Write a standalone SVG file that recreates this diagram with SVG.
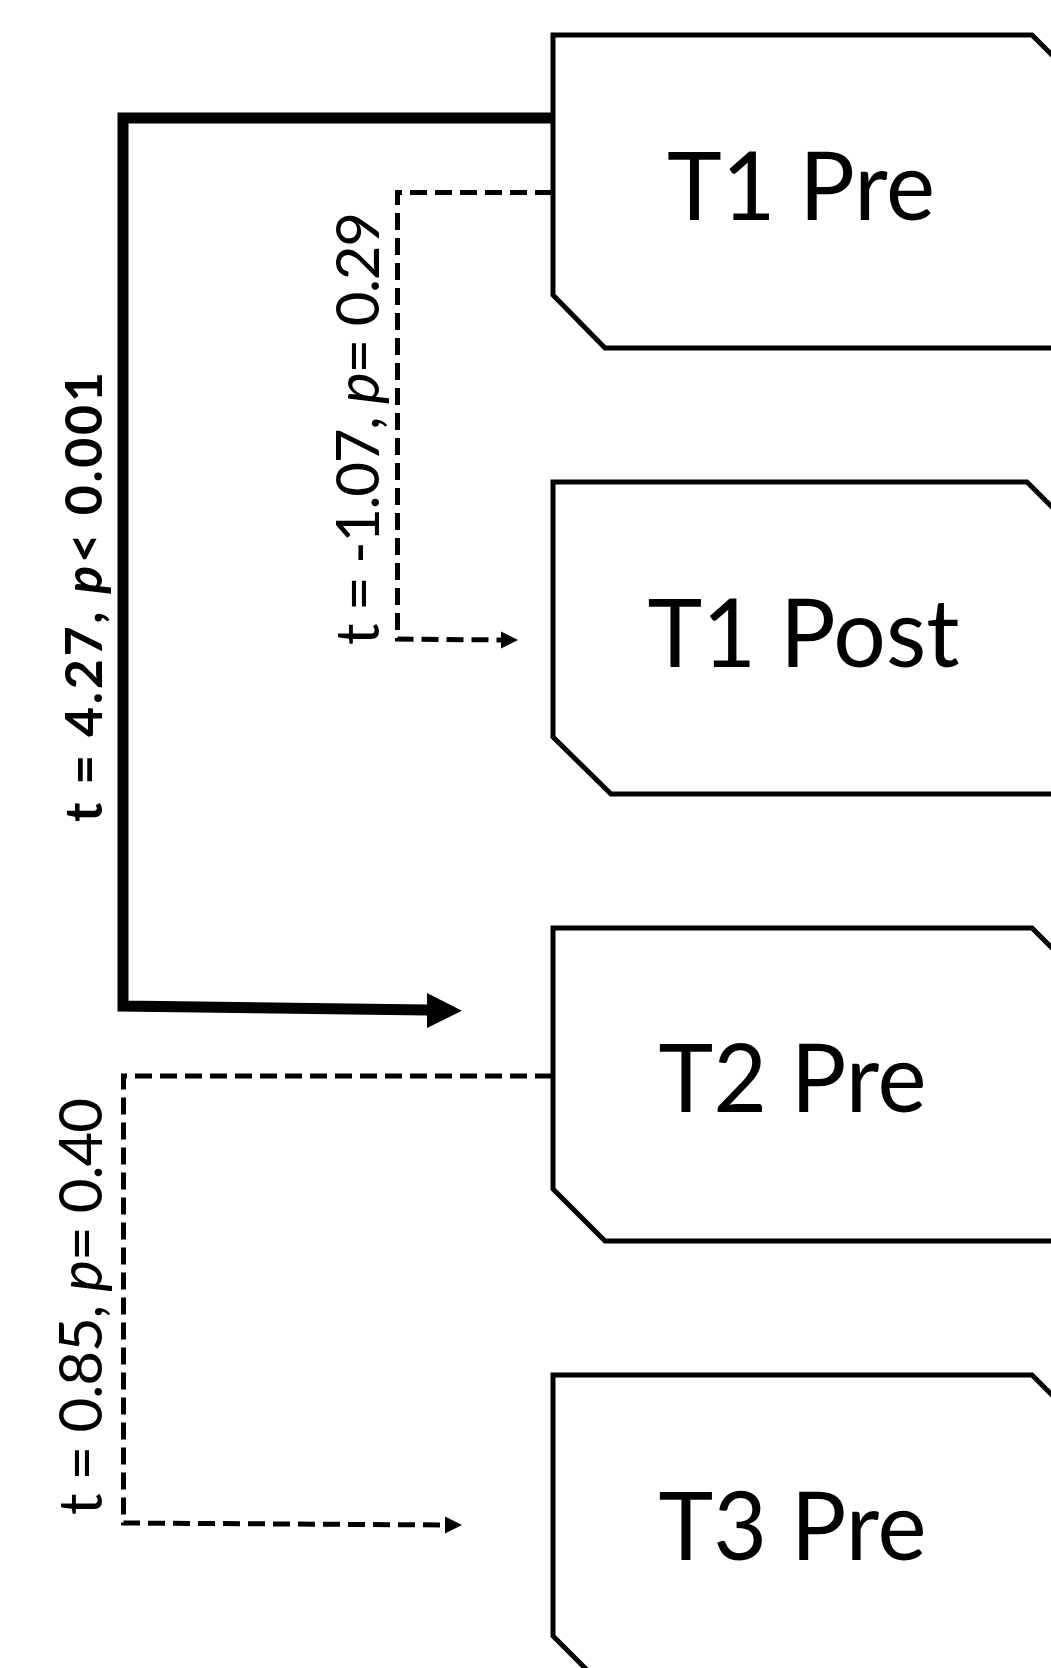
<svg xmlns="http://www.w3.org/2000/svg" width="1051" height="1668" viewBox="0 0 1051 1668">
<style>
.node{fill:#fff;stroke:#000;stroke-width:5;stroke-linejoin:miter}
.ntext{font-family:Lato,"Open Sans","Liberation Sans",sans-serif;font-size:95px;fill:#000;text-anchor:middle}
.thick{fill:none;stroke:#000;stroke-width:11;stroke-linejoin:miter}
.dash{fill:none;stroke:#000;stroke-width:5;stroke-dasharray:17 8}
.lbl{font-family:Lato,"Open Sans","Liberation Sans",sans-serif;fill:#000;text-anchor:middle}
</style>
<rect width="1051" height="1668" fill="#fff"/>
<g id="connectors">
<path class="thick" d="M552 118 H123 V1006 L428 1010"/>
<polygon points="427,993 462,1010.7 427,1028" fill="#000"/>
<path class="dash" d="M552 192.5 H397.5 V639 L503 640"/>
<polygon points="501,631.5 518,640 501,648.5" fill="#000"/>
<path class="dash" d="M552 1076 H123.5 V1523 L447 1525"/>
<polygon points="445,1516.5 462,1525 445,1533.5" fill="#000"/>
<text class="lbl" font-size="52" font-weight="bold" transform="translate(102,597) rotate(-90)" textLength="450" lengthAdjust="spacing">t = 4.27, <tspan font-style="italic">p</tspan>&lt; 0.001</text>
<text class="lbl" font-size="60" transform="translate(379,428.5) rotate(-90)" textLength="433" lengthAdjust="spacing">t = -1.07, <tspan font-style="italic">p</tspan>= 0.29</text>
<text class="lbl" font-size="60" transform="translate(101.5,1306.5) rotate(-90)" textLength="417" lengthAdjust="spacing">t = 0.85, <tspan font-style="italic">p</tspan>= 0.40</text>
</g>
<g id="node-t1pre">
<polygon class="node" points="553,35 1032,35 1100,103 1100,348 605,348 553,295"/>
<text class="ntext" x="801" y="220" textLength="268" lengthAdjust="spacingAndGlyphs">T1 Pre</text>
</g>
<g id="node-t1post">
<polygon class="node" points="553,482 1027,482 1100,555 1100,794 611,794 553,737"/>
<text class="ntext" x="803.5" y="667" textLength="312" lengthAdjust="spacingAndGlyphs">T1 Post</text>
</g>
<g id="node-t2pre">
<polygon class="node" points="553,928 1032,928 1100,996 1100,1241 605,1241 553,1189"/>
<text class="ntext" x="792.5" y="1112" textLength="268" lengthAdjust="spacingAndGlyphs">T2 Pre</text>
</g>
<g id="node-t3pre">
<polygon class="node" points="553,1375 1032,1375 1100,1443 1100,1688 605,1688 553,1636"/>
<text class="ntext" x="792.5" y="1560" textLength="268" lengthAdjust="spacingAndGlyphs">T3 Pre</text>
</g>
</svg>
